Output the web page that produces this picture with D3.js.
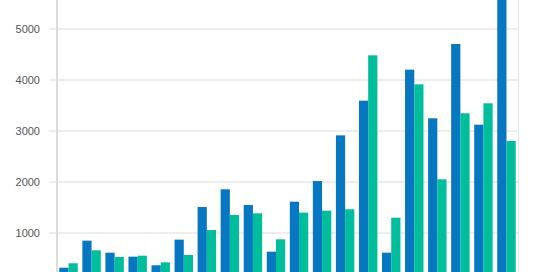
<!DOCTYPE html>
<html>
<head>
<meta charset="utf-8">
<script src="https://cdn.jsdelivr.net/npm/d3@7"></script>
<style>
body { margin: 0; background: #fff; }
svg { display: block; }
</style>
</head>
<body>
<div id="chart"></div>
<script>
// data
var categories = d3.range(1, 21).map(String);
var seriesA = [310, 840, 604, 526, 357, 860, 1500, 1847, 1539, 624, 1604, 2010, 2905, 3585, 604, 4193, 3239, 4696, 3114, 5800];
var seriesB = [396, 650, 520, 545, 415, 559, 1049, 1343, 1376, 866, 1389, 1428, 1455, 4474, 1290, 3905, 2043, 3337, 3533, 2794];
var yTicks = [1000, 2000, 3000, 4000, 5000];

var width = 540, height = 272;
var margin = {left: 57, right: 22};

var svg = d3.select("#chart")
  .append("svg")
  .attr("width", width)
  .attr("height", height);

var x = d3.scaleBand()
  .domain(categories)
  .range([margin.left, width - margin.right])
  .paddingInner(0.2)
  .paddingOuter(0.1);

var x1 = d3.scaleBand()
  .domain(["a", "b"])
  .range([0, x.bandwidth()]);

// zero sits below the visible area (chart is cropped)
var y = d3.scaleLinear()
  .domain([0, 5000])
  .range([283.5, 28.5]);

// gridlines + labels
var yAxis = svg.append("g")
  .attr("transform", "translate(" + (width - margin.right) + ",0)")
  .call(d3.axisLeft(y)
    .tickValues(yTicks)
    .tickSize(width - margin.right - margin.left + 8)
    .tickPadding(9)
    .tickFormat(d3.format("d")));
yAxis.select(".domain").remove();
yAxis.selectAll(".tick line")
  .attr("stroke", "#dcdcdc")
  .attr("stroke-width", 1);
yAxis.selectAll(".tick text")
  .attr("fill", "#555")
  .style("font-family", "Liberation Sans, Arial, sans-serif")
  .style("font-size", "11px");

// vertical border lines
svg.append("line")
  .attr("x1", margin.left).attr("x2", margin.left)
  .attr("y1", 0).attr("y2", height)
  .attr("stroke", "#dcdcdc").attr("stroke-width", 2);
svg.append("line")
  .attr("x1", width - margin.right + 0.5).attr("x2", width - margin.right + 0.5)
  .attr("y1", 0).attr("y2", height)
  .attr("stroke", "#e4e4e4").attr("stroke-width", 1);

var rows = categories.map(function (c, i) {
  return {cat: c, a: seriesA[i], b: seriesB[i]};
});

var groups = svg.append("g")
  .selectAll("g")
  .data(rows)
  .enter()
  .append("g")
  .attr("transform", function (d) { return "translate(" + x(d.cat) + ",0)"; });

groups.append("rect")
  .attr("x", x1("a"))
  .attr("y", function (d) { return y(d.a); })
  .attr("width", x1.bandwidth())
  .attr("height", function (d) { return y(0) - y(d.a); })
  .attr("fill", "#0877c1");

groups.append("rect")
  .attr("x", x1("b"))
  .attr("y", function (d) { return y(d.b); })
  .attr("width", x1.bandwidth())
  .attr("height", function (d) { return y(0) - y(d.b); })
  .attr("fill", "#00be9b");
</script>
</body>
</html>
